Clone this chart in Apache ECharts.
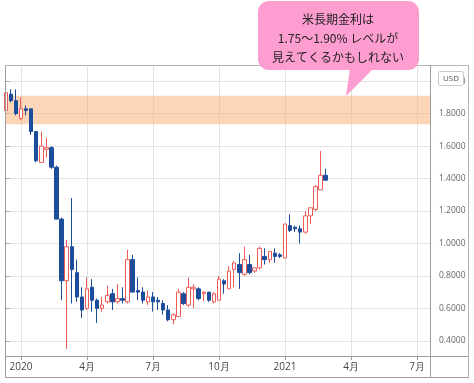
<!DOCTYPE html>
<html>
<head>
<meta charset="utf-8">
<script src="https://cdn.jsdelivr.net/npm/echarts@6/dist/echarts.min.js"></script>
<style>
html,body{margin:0;padding:0;background:#fff;}
#chart{width:474px;height:383px;}
</style>
</head>
<body>
<div id="chart"></div>
<script>
// Weekly bars (Monday dates), one category per week, including empty future weeks
const weeks = [
 '2019-12-16','2019-12-23','2019-12-30','2020-01-06','2020-01-13','2020-01-20','2020-01-27','2020-02-03','2020-02-10','2020-02-17',
 '2020-02-24','2020-03-02','2020-03-09','2020-03-16','2020-03-23','2020-03-30','2020-04-06','2020-04-13','2020-04-20','2020-04-27',
 '2020-05-04','2020-05-11','2020-05-18','2020-05-25','2020-06-01','2020-06-08','2020-06-15','2020-06-22','2020-06-29','2020-07-06',
 '2020-07-13','2020-07-20','2020-07-27','2020-08-03','2020-08-10','2020-08-17','2020-08-24','2020-08-31','2020-09-07','2020-09-14',
 '2020-09-21','2020-09-28','2020-10-05','2020-10-12','2020-10-19','2020-10-26','2020-11-02','2020-11-09','2020-11-16','2020-11-23',
 '2020-11-30','2020-12-07','2020-12-14','2020-12-21','2020-12-28','2021-01-04','2021-01-11','2021-01-18','2021-01-25','2021-02-01',
 '2021-02-08','2021-02-15','2021-02-22','2021-03-01','2021-03-08','2021-03-15','2021-03-22','2021-03-29','2021-04-05','2021-04-12',
 '2021-04-19','2021-04-26','2021-05-03','2021-05-10','2021-05-17','2021-05-24','2021-05-31','2021-06-07','2021-06-14','2021-06-21',
 '2021-06-28','2021-07-05','2021-07-12','2021-07-19'
];
const openV  = [1.82,1.92,1.88,1.77,1.83,1.83,1.69,1.50,1.58,1.59, 1.47,1.15,0.77,0.98,0.82,0.67,0.60,0.73,0.65,0.60,
                0.64,0.69,0.64,0.66,0.64,0.90,0.71,0.70,0.64,0.67, 0.65,0.63,0.59,0.53,0.55,0.69,0.62,0.72,0.72,0.69,
                0.70,0.64,0.65,0.77,0.72,0.84,0.87,0.81,0.87,0.83, 0.85,0.92,0.90,0.94,0.93,0.91,1.11,1.10,1.09,1.07,
                1.17,1.21,1.33,1.42];
const closeV = [1.93,1.88,1.80,1.83,1.82,1.69,1.51,1.60,1.59,1.47, 1.15,0.77,0.98,0.84,0.67,0.59,0.72,0.65,0.60,0.62,
                0.68,0.64,0.66,0.65,0.90,0.70,0.70,0.65,0.67,0.64, 0.64,0.59,0.53,0.56,0.70,0.63,0.73,0.73,0.66,0.70,
                0.65,0.69,0.78,0.75,0.83,0.88,0.82,0.90,0.82,0.85, 0.97,0.90,0.95,0.92,0.92,1.12,1.08,1.09,1.07,1.17,
                1.22,1.35,1.42,1.39];
const lowV   = [1.82,1.87,1.79,1.76,1.79,1.67,1.50,1.50,1.53,1.46, 1.15,0.65,0.35,0.63,0.64,0.54,0.59,0.58,0.51,0.58,
                0.63,0.59,0.63,0.63,0.63,0.70,0.65,0.63,0.62,0.58, 0.59,0.56,0.52,0.50,0.55,0.62,0.61,0.60,0.65,0.645,
                0.64,0.63,0.65,0.69,0.72,0.73,0.72,0.80,0.81,0.82, 0.84,0.87,0.88,0.88,0.91,0.91,1.07,1.07,1.00,1.06,
                1.12,1.20,1.33,1.39];
const highV  = [1.95,1.95,1.95,1.90,1.85,1.83,1.69,1.69,1.65,1.60, 1.48,1.16,1.02,1.28,0.90,0.73,0.79,0.78,0.66,0.67,
                0.74,0.72,0.75,0.73,0.96,0.93,0.79,0.73,0.71,0.70, 0.67,0.65,0.62,0.57,0.72,0.70,0.79,0.75,0.73,0.705,
                0.70,0.70,0.80,0.78,0.86,0.89,0.94,0.98,0.93,0.85, 0.98,0.97,0.95,0.97,0.94,1.12,1.18,1.11,1.11,1.20,
                1.22,1.36,1.57,1.46];
const tickWeeks  = ['2020-01-06','2020-04-06','2020-07-06','2020-10-05','2021-01-04','2021-04-05','2021-07-05'];
const tickLabels = ['2020','4月','7月','10月','2021','4月','7月'];
const yTicks = [0.4,0.6,0.8,1.0,1.2,1.4,1.6,1.8,2.0];
const bandRange = [1.735, 1.91];
const calloutLines = ['米長期金利は', '1.75～1.90% レベルが', '見えてくるかもしれない'];
const currency = 'USD';

const candleData = openV.map((o, i) => [i, o, closeV[i], lowV[i], highV[i]]);
const tickIdx = tickWeeks.map(w => weeks.indexOf(w));
const labelOf = {};
tickIdx.forEach((k, j) => { labelOf[k] = tickLabels[j]; });

const chart = echarts.init(document.getElementById('chart'), null, {renderer: 'canvas'});
const frame = '#a0a0a0';
const gridC = '#e3e3e3';
chart.setOption({
  animation: false,
  backgroundColor: '#ffffff',
  grid: {left: 5, right: 44, top: 65, height: 292, containLabel: false},
  xAxis: {
    type: 'value', min: -0.15, max: 83.56,
    axisLine: {show: false},
    axisTick: {show: true, customValues: tickIdx, length: 3, lineStyle: {color: '#999'}},
    axisLabel: {customValues: tickIdx, formatter: v => labelOf[Math.round(v)] || '', color: '#444',
                fontSize: 10, fontFamily: 'Open Sans', margin: 5},
    splitLine: {show: true, lineStyle: {color: gridC, width: 1}}
  },
  yAxis: {
    type: 'value', position: 'right', min: 0.3, max: 2.1,
    axisLine: {show: false},
    axisTick: {show: true, customValues: yTicks, length: 4, lineStyle: {color: '#aaa'}},
    axisLabel: {customValues: yTicks, formatter: v => v.toFixed(4), color: '#666', fontSize: 8.5,
                fontFamily: 'Open Sans', margin: 9},
    splitLine: {show: true, lineStyle: {color: gridC, width: 1}}
  },
  series: [{
    type: 'candlestick',
    data: candleData,
    barWidth: 4,
    clip: true,
    itemStyle: {color: '#ffffff', color0: '#1c4d9b', borderColor: '#ee5b56', borderColor0: '#1c4d9b', borderWidth: 1},
    markArea: {
      silent: true,
      itemStyle: {color: 'rgba(251,172,115,0.5)'},
      data: [[{yAxis: bandRange[0]}, {yAxis: bandRange[1]}]]
    }
  }],
  graphic: [
    {type: 'line', shape: {x1: 5.5, y1: 65, x2: 5.5, y2: 378}, style: {stroke: frame, lineWidth: 1}, z: 10},
    {type: 'line', shape: {x1: 5, y1: 65.5, x2: 469, y2: 65.5}, style: {stroke: '#b5b5b5', lineWidth: 1}, z: 10},
    {type: 'line', shape: {x1: 468.5, y1: 65, x2: 468.5, y2: 378}, style: {stroke: '#b5b5b5', lineWidth: 1}, z: 10},
    {type: 'line', shape: {x1: 5, y1: 377.5, x2: 469, y2: 377.5}, style: {stroke: frame, lineWidth: 1}, z: 10},
    {type: 'line', shape: {x1: 5, y1: 356.5, x2: 469, y2: 356.5}, style: {stroke: frame, lineWidth: 1}, z: 10},
    {type: 'line', shape: {x1: 430.5, y1: 65, x2: 430.5, y2: 378}, style: {stroke: frame, lineWidth: 1}, z: 10},
    {type: 'rect', shape: {x: 438.5, y: 71.5, width: 25, height: 14, r: 2}, style: {fill: '#fff', stroke: '#c8c8c8', lineWidth: 1}, z: 10},
    {type: 'text', x: 451, y: 78.5, style: {text: currency, fill: '#555', fontSize: 8, fontFamily: 'Open Sans', align: 'center', verticalAlign: 'middle'}, z: 11},
    {type: 'polygon', shape: {points: [[350, 68], [374, 68], [346, 96]]}, style: {fill: '#fd9dd0'}, z: 20},
    {type: 'rect', shape: {x: 258, y: 1, width: 161, height: 69, r: 11}, style: {fill: '#fd9dd0'}, z: 20},
    {type: 'text', x: 338, y: 19, style: {text: calloutLines[0], fill: '#222', fontSize: 12, fontFamily: 'Noto Sans CJK JP', align: 'center', verticalAlign: 'middle'}, z: 21},
    {type: 'text', x: 338, y: 38, style: {text: calloutLines[1], fill: '#222', fontSize: 12, fontFamily: 'Noto Sans CJK JP', align: 'center', verticalAlign: 'middle'}, z: 21},
    {type: 'text', x: 338, y: 57, style: {text: calloutLines[2], fill: '#222', fontSize: 12, fontFamily: 'Noto Sans CJK JP', align: 'center', verticalAlign: 'middle'}, z: 21}
  ]
});
</script>
</body>
</html>
